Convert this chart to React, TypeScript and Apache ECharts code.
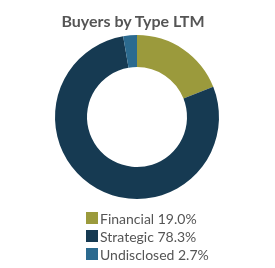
import React, { useEffect, useRef } from "react";
import * as echarts from "echarts";

const categories = ["Financial", "Strategic", "Undisclosed"];
const values = [19.0, 78.3, 2.7];
const colors = ["#9b9a3c", "#163a52", "#2b6a8f"];

export default function App() {
  const ref = useRef<HTMLDivElement>(null);
  useEffect(() => {
    if (!ref.current) return;
    const chart = echarts.init(ref.current, undefined, { renderer: "svg" });
    chart.setOption({
      animation: false,
      title: {
        text: "Buyers by Type LTM",
        left: 128,
        textAlign: "center",
        top: 7,
        textStyle: { fontFamily: "Lato", fontWeight: "bold", fontSize: 16, color: "#555555" },
      },
      legend: {
        orient: "vertical",
        left: 86,
        top: 211,
        padding: 0,
        itemWidth: 12,
        itemHeight: 12,
        itemGap: 4,
        icon: "rect",
        data: categories,
        textStyle: { fontFamily: "Lato", fontSize: 14, lineHeight: 14, color: "#555555", padding: [0, 0, 0, -3] },
        formatter: (name: string) => {
          const i = categories.indexOf(name);
          return `${name} ${values[i].toFixed(1)}%`;
        },
      },
      series: [
        {
          type: "pie",
          center: [137, 117],
          radius: [50, 82],
          startAngle: 90,
          clockwise: true,
          label: { show: false },
          labelLine: { show: false },
          emphasis: { disabled: true },
          data: categories.map((c, i) => ({ name: c, value: values[i], itemStyle: { color: colors[i] } })),
        },
      ],
    });
    return () => chart.dispose();
  }, []);
  return <div ref={ref} style={{ position: "fixed", left: 0, top: 0, width: 275, height: 268 }} />;
}
